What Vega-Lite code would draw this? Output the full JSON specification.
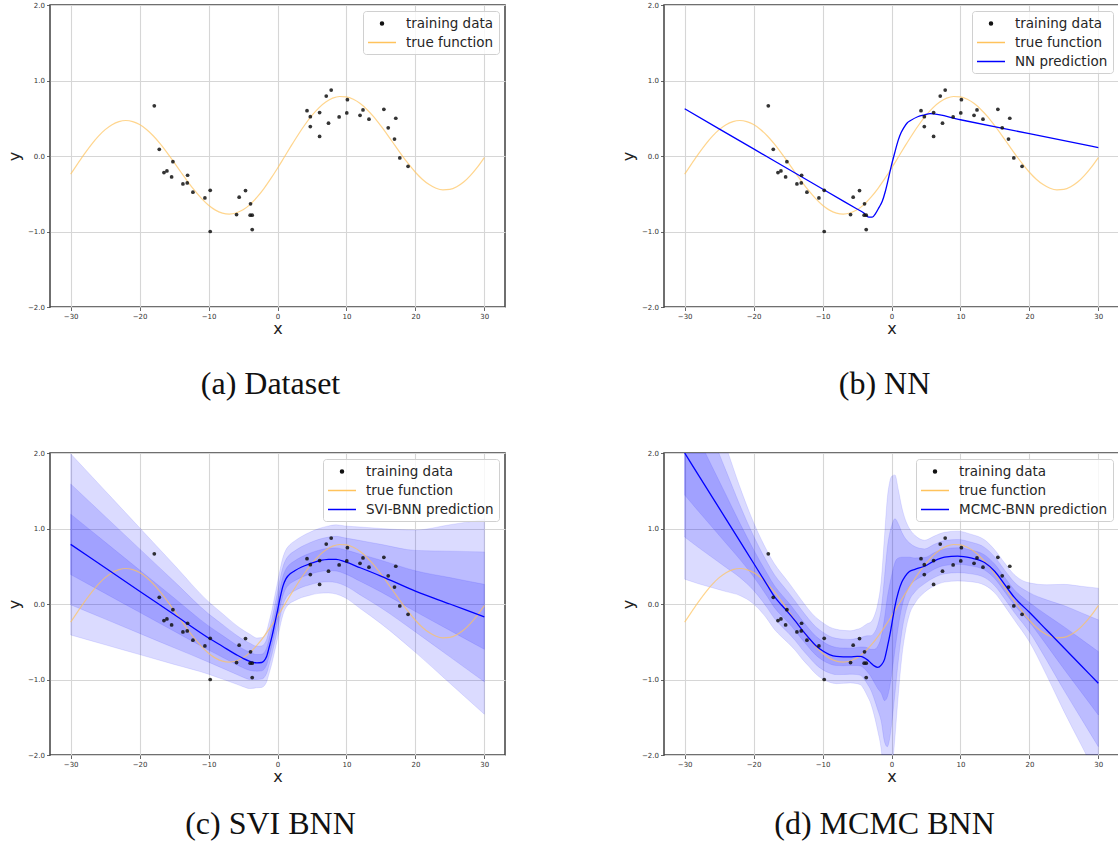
{
  "$schema": "https://vega.github.io/schema/vega-lite/v6.json",
  "padding": {"left": 5, "top": 0, "right": 0, "bottom": 0},
  "background": "white",
  "config": {
    "font": "DejaVu Sans",
    "view": {"stroke": "#404040", "strokeWidth": 1.5},
    "axis": {"gridColor": "#d6d6d6", "gridWidth": 1.1, "domain": false, "tickColor": "#404040", "tickSize": 3.5, "tickWidth": 0.8, "labelFont": "DejaVu Sans", "labelFontSize": 7, "labelColor": "#333333", "labelPadding": 2, "titleFont": "DejaVu Sans", "titleFontSize": 16, "titleFontWeight": "normal", "titleColor": "#222222", "labelFlush": false},
    "axisX": {"titlePadding": 1},
    "axisY": {"titlePadding": 5},
    "title": {"font": "Liberation Serif", "fontSize": 32, "fontWeight": "normal", "color": "#111111"},
    "legend": {"orient": "top-right", "offset": 6, "labelFont": "DejaVu Sans", "labelFontSize": 13.5, "labelColor": "#262626", "padding": 5, "rowPadding": 5, "strokeColor": "#d0d0d0", "fillColor": "rgba(255,255,255,0.8)", "cornerRadius": 3, "symbolSize": 169, "symbolStrokeWidth": 1.5, "symbolOpacity": 1, "labelOffset": 23}
  },
  "datasets": {
    "train": [
      {"x": -17.87, "y": 0.665}, {"x": -17.15, "y": 0.088}, {"x": -16.47, "y": -0.22}, {"x": -16.04, "y": -0.198}, {"x": -15.17, "y": -0.075}, {"x": -15.36, "y": -0.278}, {"x": -13.72, "y": -0.37}, {"x": -13.04, "y": -0.255}, {"x": -13.09, "y": -0.357}, {"x": -12.27, "y": -0.48}, {"x": -10.53, "y": -0.555}, {"x": -9.76, "y": -0.454}, {"x": -9.76, "y": -1.0}, {"x": -5.94, "y": -0.775}, {"x": -5.56, "y": -0.546}, {"x": -4.64, "y": -0.458}, {"x": -3.91, "y": -0.634}, {"x": -3.96, "y": -0.784}, {"x": -3.67, "y": -0.784}, {"x": -3.67, "y": -0.974},
      {"x": 4.28, "y": 0.6}, {"x": 4.76, "y": 0.52}, {"x": 4.76, "y": 0.39}, {"x": 6.11, "y": 0.575}, {"x": 6.11, "y": 0.259}, {"x": 7.07, "y": 0.794}, {"x": 7.4, "y": 0.434}, {"x": 7.79, "y": 0.873}, {"x": 8.94, "y": 0.518}, {"x": 10.14, "y": 0.746}, {"x": 10.05, "y": 0.57}, {"x": 11.97, "y": 0.539}, {"x": 12.4, "y": 0.61}, {"x": 13.27, "y": 0.487}, {"x": 15.43, "y": 0.618}, {"x": 16.06, "y": 0.373}, {"x": 17.16, "y": 0.5}, {"x": 16.97, "y": 0.224}, {"x": 17.74, "y": -0.026}, {"x": 18.94, "y": -0.136}
    ],
    "truef": [
      {"x": -30, "y": -0.24}, {"x": -29, "y": -0.104}, {"x": -28, "y": 0.029}, {"x": -27, "y": 0.152}, {"x": -26, "y": 0.26}, {"x": -25, "y": 0.349}, {"x": -24, "y": 0.415}, {"x": -23, "y": 0.456}, {"x": -22, "y": 0.47}, {"x": -21, "y": 0.456}, {"x": -20, "y": 0.417}, {"x": -19, "y": 0.352}, {"x": -18, "y": 0.265}, {"x": -17, "y": 0.16}, {"x": -16, "y": 0.042}, {"x": -15, "y": -0.085}, {"x": -14, "y": -0.215}, {"x": -13, "y": -0.342}, {"x": -12, "y": -0.46}, {"x": -11, "y": -0.565}, {"x": -10, "y": -0.652}, {"x": -9, "y": -0.717}, {"x": -8, "y": -0.756}, {"x": -7, "y": -0.77}, {"x": -6, "y": -0.755}, {"x": -5, "y": -0.713}, {"x": -4, "y": -0.644}, {"x": -3, "y": -0.549}, {"x": -2, "y": -0.435}, {"x": -1, "y": -0.304}, {"x": 0, "y": -0.162}, {"x": 1, "y": -0.013}, {"x": 2, "y": 0.137}, {"x": 3, "y": 0.282}, {"x": 4, "y": 0.417}, {"x": 5, "y": 0.537}, {"x": 6, "y": 0.638}, {"x": 7, "y": 0.714}, {"x": 8, "y": 0.766}, {"x": 9, "y": 0.788}, {"x": 10, "y": 0.783}, {"x": 11, "y": 0.751}, {"x": 12, "y": 0.694}, {"x": 13, "y": 0.613}, {"x": 14, "y": 0.514}, {"x": 15, "y": 0.398}, {"x": 16, "y": 0.274}, {"x": 17, "y": 0.144}, {"x": 18, "y": 0.016}, {"x": 19, "y": -0.105}, {"x": 20, "y": -0.215}, {"x": 21, "y": -0.307}, {"x": 22, "y": -0.379}, {"x": 23, "y": -0.428}, {"x": 24, "y": -0.449}, {"x": 25, "y": -0.443}, {"x": 26, "y": -0.407}, {"x": 27, "y": -0.345}, {"x": 28, "y": -0.256}, {"x": 29, "y": -0.147}, {"x": 30, "y": -0.02}
    ],
    "nn": [
      {"x": -30, "y": 0.625}, {"x": -20, "y": 0.094}, {"x": -10, "y": -0.437}, {"x": -5, "y": -0.702}, {"x": -4, "y": -0.755}, {"x": -3.3, "y": -0.81}, {"x": -2.8, "y": -0.81}, {"x": -2.3, "y": -0.76}, {"x": -1.8, "y": -0.68}, {"x": -1.34, "y": -0.6}, {"x": -0.9, "y": -0.47}, {"x": -0.5, "y": -0.32}, {"x": -0.05, "y": -0.14}, {"x": 0.46, "y": 0.04}, {"x": 0.98, "y": 0.21}, {"x": 1.4, "y": 0.31}, {"x": 1.75, "y": 0.37}, {"x": 2.3, "y": 0.44}, {"x": 2.77, "y": 0.47}, {"x": 3.8, "y": 0.52}, {"x": 4.8, "y": 0.545}, {"x": 5.6, "y": 0.56}, {"x": 10, "y": 0.48}, {"x": 20, "y": 0.295}, {"x": 30, "y": 0.112}
    ],
    "svi": [
      {"x": -30, "y": 0.79, "lo1": 0.39, "hi1": 1.19, "lo2": -0.01, "hi2": 1.59, "lo3": -0.41, "hi3": 1.99},
      {"x": -25, "y": 0.48, "lo1": 0.14, "hi1": 0.82, "lo2": -0.2, "hi2": 1.16, "lo3": -0.54, "hi3": 1.5},
      {"x": -20, "y": 0.17, "lo1": -0.11, "hi1": 0.45, "lo2": -0.39, "hi2": 0.73, "lo3": -0.67, "hi3": 1.01},
      {"x": -15, "y": -0.14, "lo1": -0.36, "hi1": 0.08, "lo2": -0.58, "hi2": 0.3, "lo3": -0.8, "hi3": 0.52},
      {"x": -10, "y": -0.45, "lo1": -0.61, "hi1": -0.29, "lo2": -0.77, "hi2": -0.13, "lo3": -0.93, "hi3": 0.03},
      {"x": -8, "y": -0.56, "lo1": -0.705, "hi1": -0.415, "lo2": -0.85, "hi2": -0.27, "lo3": -0.995, "hi3": -0.125},
      {"x": -6, "y": -0.67, "lo1": -0.8, "hi1": -0.54, "lo2": -0.93, "hi2": -0.41, "lo3": -1.06, "hi3": -0.28},
      {"x": -5, "y": -0.72, "lo1": -0.845, "hi1": -0.595, "lo2": -0.97, "hi2": -0.47, "lo3": -1.095, "hi3": -0.345},
      {"x": -4, "y": -0.76, "lo1": -0.88, "hi1": -0.64, "lo2": -1.0, "hi2": -0.52, "lo3": -1.12, "hi3": -0.4},
      {"x": -3, "y": -0.78, "lo1": -0.89, "hi1": -0.67, "lo2": -1.0, "hi2": -0.56, "lo3": -1.11, "hi3": -0.45},
      {"x": -2.3, "y": -0.775, "lo1": -0.885, "hi1": -0.665, "lo2": -0.995, "hi2": -0.555, "lo3": -1.105, "hi3": -0.445},
      {"x": -1.6, "y": -0.7, "lo1": -0.812, "hi1": -0.588, "lo2": -0.924, "hi2": -0.476, "lo3": -1.036, "hi3": -0.364},
      {"x": -1.2, "y": -0.57, "lo1": -0.685, "hi1": -0.455, "lo2": -0.8, "hi2": -0.34, "lo3": -0.915, "hi3": -0.225},
      {"x": -0.8, "y": -0.43, "lo1": -0.548, "hi1": -0.312, "lo2": -0.666, "hi2": -0.194, "lo3": -0.784, "hi3": -0.076},
      {"x": -0.4, "y": -0.26, "lo1": -0.382, "hi1": -0.138, "lo2": -0.504, "hi2": -0.016, "lo3": -0.626, "hi3": 0.106},
      {"x": 0, "y": -0.09, "lo1": -0.215, "hi1": 0.035, "lo2": -0.34, "hi2": 0.16, "lo3": -0.465, "hi3": 0.285},
      {"x": 0.4, "y": 0.09, "lo1": -0.036, "hi1": 0.216, "lo2": -0.162, "hi2": 0.342, "lo3": -0.288, "hi3": 0.468},
      {"x": 0.8, "y": 0.24, "lo1": 0.113, "hi1": 0.367, "lo2": -0.014, "hi2": 0.494, "lo3": -0.141, "hi3": 0.621},
      {"x": 1.2, "y": 0.33, "lo1": 0.202, "hi1": 0.458, "lo2": 0.074, "hi2": 0.586, "lo3": -0.054, "hi3": 0.714},
      {"x": 1.6, "y": 0.38, "lo1": 0.251, "hi1": 0.509, "lo2": 0.122, "hi2": 0.638, "lo3": -0.007, "hi3": 0.767},
      {"x": 2.5, "y": 0.44, "lo1": 0.308, "hi1": 0.572, "lo2": 0.176, "hi2": 0.704, "lo3": 0.044, "hi3": 0.836},
      {"x": 3.5, "y": 0.49, "lo1": 0.355, "hi1": 0.625, "lo2": 0.22, "hi2": 0.76, "lo3": 0.085, "hi3": 0.895},
      {"x": 4.6, "y": 0.53, "lo1": 0.391, "hi1": 0.669, "lo2": 0.252, "hi2": 0.808, "lo3": 0.113, "hi3": 0.947},
      {"x": 6, "y": 0.57, "lo1": 0.427, "hi1": 0.713, "lo2": 0.284, "hi2": 0.856, "lo3": 0.141, "hi3": 0.999},
      {"x": 7.4, "y": 0.59, "lo1": 0.442, "hi1": 0.738, "lo2": 0.294, "hi2": 0.886, "lo3": 0.146, "hi3": 1.034},
      {"x": 8.5, "y": 0.59, "lo1": 0.437, "hi1": 0.743, "lo2": 0.284, "hi2": 0.896, "lo3": 0.131, "hi3": 1.049},
      {"x": 9.75, "y": 0.56, "lo1": 0.402, "hi1": 0.718, "lo2": 0.244, "hi2": 0.876, "lo3": 0.086, "hi3": 1.034},
      {"x": 12, "y": 0.48, "lo1": 0.3, "hi1": 0.66, "lo2": 0.12, "hi2": 0.84, "lo3": -0.06, "hi3": 1.02},
      {"x": 15, "y": 0.37, "lo1": 0.16, "hi1": 0.58, "lo2": -0.05, "hi2": 0.79, "lo3": -0.26, "hi3": 1.0},
      {"x": 20, "y": 0.17, "lo1": -0.1, "hi1": 0.44, "lo2": -0.37, "hi2": 0.71, "lo3": -0.64, "hi3": 0.98},
      {"x": 25, "y": 0.0, "lo1": -0.35, "hi1": 0.35, "lo2": -0.7, "hi2": 0.7, "lo3": -1.05, "hi3": 1.05},
      {"x": 30, "y": -0.17, "lo1": -0.6, "hi1": 0.26, "lo2": -1.03, "hi2": 0.69, "lo3": -1.46, "hi3": 1.12}
    ],
    "mcmc": [
      {"x": -30, "y": 2.0, "lo1": 1.443, "hi1": 2.557, "lo2": 0.886, "hi2": 3.114, "lo3": 0.329, "hi3": 3.671},
      {"x": -28, "y": 1.708, "lo1": 1.228, "hi1": 2.188, "lo2": 0.748, "hi2": 2.668, "lo3": 0.268, "hi3": 3.148},
      {"x": -26, "y": 1.416, "lo1": 1.016, "hi1": 1.816, "lo2": 0.616, "hi2": 2.216, "lo3": 0.216, "hi3": 2.616},
      {"x": -24, "y": 1.124, "lo1": 0.804, "hi1": 1.444, "lo2": 0.484, "hi2": 1.764, "lo3": 0.164, "hi3": 2.084},
      {"x": -22, "y": 0.832, "lo1": 0.592, "hi1": 1.072, "lo2": 0.352, "hi2": 1.312, "lo3": 0.112, "hi3": 1.552},
      {"x": -20, "y": 0.54, "lo1": 0.36, "hi1": 0.72, "lo2": 0.18, "hi2": 0.9, "lo3": 0.0, "hi3": 1.08},
      {"x": -18, "y": 0.246, "lo1": 0.096, "hi1": 0.396, "lo2": -0.054, "hi2": 0.546, "lo3": -0.204, "hi3": 0.696},
      {"x": -17, "y": 0.1, "lo1": -0.045, "hi1": 0.245, "lo2": -0.19, "hi2": 0.39, "lo3": -0.335, "hi3": 0.535},
      {"x": -16, "y": -0.01, "lo1": -0.15, "hi1": 0.13, "lo2": -0.29, "hi2": 0.27, "lo3": -0.43, "hi3": 0.41},
      {"x": -15, "y": -0.11, "lo1": -0.245, "hi1": 0.025, "lo2": -0.38, "hi2": 0.16, "lo3": -0.515, "hi3": 0.295},
      {"x": -14, "y": -0.22, "lo1": -0.35, "hi1": -0.09, "lo2": -0.48, "hi2": 0.04, "lo3": -0.61, "hi3": 0.17},
      {"x": -13, "y": -0.34, "lo1": -0.468, "hi1": -0.212, "lo2": -0.596, "hi2": -0.084, "lo3": -0.724, "hi3": 0.044},
      {"x": -12, "y": -0.45, "lo1": -0.575, "hi1": -0.325, "lo2": -0.7, "hi2": -0.2, "lo3": -0.825, "hi3": -0.075},
      {"x": -11, "y": -0.55, "lo1": -0.675, "hi1": -0.425, "lo2": -0.8, "hi2": -0.3, "lo3": -0.925, "hi3": -0.175},
      {"x": -10, "y": -0.62, "lo1": -0.745, "hi1": -0.495, "lo2": -0.87, "hi2": -0.37, "lo3": -0.995, "hi3": -0.245},
      {"x": -9, "y": -0.67, "lo1": -0.792, "hi1": -0.548, "lo2": -0.914, "hi2": -0.426, "lo3": -1.036, "hi3": -0.304},
      {"x": -8, "y": -0.695, "lo1": -0.815, "hi1": -0.575, "lo2": -0.935, "hi2": -0.455, "lo3": -1.055, "hi3": -0.335},
      {"x": -7, "y": -0.7, "lo1": -0.817, "hi1": -0.583, "lo2": -0.934, "hi2": -0.466, "lo3": -1.051, "hi3": -0.349},
      {"x": -6, "y": -0.7, "lo1": -0.815, "hi1": -0.585, "lo2": -0.93, "hi2": -0.47, "lo3": -1.045, "hi3": -0.355},
      {"x": -5, "y": -0.695, "lo1": -0.815, "hi1": -0.575, "lo2": -0.935, "hi2": -0.455, "lo3": -1.055, "hi3": -0.335},
      {"x": -4.5, "y": -0.695, "lo1": -0.82, "hi1": -0.57, "lo2": -0.945, "hi2": -0.445, "lo3": -1.07, "hi3": -0.32},
      {"x": -4, "y": -0.71, "lo1": -0.85, "hi1": -0.57, "lo2": -0.99, "hi2": -0.43, "lo3": -1.13, "hi3": -0.29},
      {"x": -3.5, "y": -0.74, "lo1": -0.9, "hi1": -0.58, "lo2": -1.06, "hi2": -0.42, "lo3": -1.22, "hi3": -0.26},
      {"x": -3, "y": -0.78, "lo1": -0.96, "hi1": -0.6, "lo2": -1.14, "hi2": -0.42, "lo3": -1.32, "hi3": -0.24},
      {"x": -2.5, "y": -0.82, "lo1": -1.04, "hi1": -0.6, "lo2": -1.26, "hi2": -0.38, "lo3": -1.48, "hi3": -0.16},
      {"x": -2, "y": -0.84, "lo1": -1.12, "hi1": -0.56, "lo2": -1.4, "hi2": -0.28, "lo3": -1.68, "hi3": 0.0},
      {"x": -1.5, "y": -0.81, "lo1": -1.18, "hi1": -0.44, "lo2": -1.55, "hi2": -0.07, "lo3": -1.92, "hi3": 0.3},
      {"x": -1, "y": -0.73, "lo1": -1.28, "hi1": -0.18, "lo2": -1.83, "hi2": 0.37, "lo3": -2.38, "hi3": 0.92},
      {"x": -0.6, "y": -0.57, "lo1": -1.23, "hi1": 0.09, "lo2": -1.89, "hi2": 0.75, "lo3": -2.55, "hi3": 1.41},
      {"x": -0.3, "y": -0.44, "lo1": -1.12, "hi1": 0.24, "lo2": -1.8, "hi2": 0.92, "lo3": -2.48, "hi3": 1.6},
      {"x": 0, "y": -0.29, "lo1": -0.95, "hi1": 0.37, "lo2": -1.61, "hi2": 1.03, "lo3": -2.27, "hi3": 1.69},
      {"x": 0.5, "y": -0.03, "lo1": -0.61, "hi1": 0.55, "lo2": -1.19, "hi2": 1.13, "lo3": -1.77, "hi3": 1.71},
      {"x": 1, "y": 0.16, "lo1": -0.29, "hi1": 0.61, "lo2": -0.74, "hi2": 1.06, "lo3": -1.19, "hi3": 1.51},
      {"x": 1.5, "y": 0.29, "lo1": -0.04, "hi1": 0.62, "lo2": -0.37, "hi2": 0.95, "lo3": -0.7, "hi3": 1.28},
      {"x": 2, "y": 0.37, "lo1": 0.12, "hi1": 0.62, "lo2": -0.13, "hi2": 0.87, "lo3": -0.38, "hi3": 1.12},
      {"x": 2.6, "y": 0.43, "lo1": 0.24, "hi1": 0.62, "lo2": 0.05, "hi2": 0.81, "lo3": -0.14, "hi3": 1.0},
      {"x": 3.4, "y": 0.46, "lo1": 0.31, "hi1": 0.61, "lo2": 0.16, "hi2": 0.76, "lo3": 0.01, "hi3": 0.91},
      {"x": 4.8, "y": 0.5, "lo1": 0.385, "hi1": 0.615, "lo2": 0.27, "hi2": 0.73, "lo3": 0.155, "hi3": 0.845},
      {"x": 6.2, "y": 0.57, "lo1": 0.46, "hi1": 0.68, "lo2": 0.35, "hi2": 0.79, "lo3": 0.24, "hi3": 0.9},
      {"x": 7.7, "y": 0.62, "lo1": 0.51, "hi1": 0.73, "lo2": 0.4, "hi2": 0.84, "lo3": 0.29, "hi3": 0.95},
      {"x": 9.6, "y": 0.635, "lo1": 0.525, "hi1": 0.745, "lo2": 0.415, "hi2": 0.855, "lo3": 0.305, "hi3": 0.965},
      {"x": 11.5, "y": 0.61, "lo1": 0.505, "hi1": 0.715, "lo2": 0.4, "hi2": 0.82, "lo3": 0.295, "hi3": 0.925},
      {"x": 13.5, "y": 0.55, "lo1": 0.45, "hi1": 0.65, "lo2": 0.35, "hi2": 0.75, "lo3": 0.25, "hi3": 0.85},
      {"x": 15, "y": 0.43, "lo1": 0.335, "hi1": 0.525, "lo2": 0.24, "hi2": 0.62, "lo3": 0.145, "hi3": 0.715},
      {"x": 16.4, "y": 0.26, "lo1": 0.165, "hi1": 0.355, "lo2": 0.07, "hi2": 0.45, "lo3": -0.025, "hi3": 0.545},
      {"x": 17.8, "y": 0.09, "lo1": -0.01, "hi1": 0.19, "lo2": -0.11, "hi2": 0.29, "lo3": -0.21, "hi3": 0.39},
      {"x": 20, "y": -0.11, "lo1": -0.24, "hi1": 0.02, "lo2": -0.37, "hi2": 0.15, "lo3": -0.5, "hi3": 0.28},
      {"x": 22.5, "y": -0.345, "lo1": -0.545, "hi1": -0.145, "lo2": -0.745, "hi2": 0.055, "lo3": -0.945, "hi3": 0.255},
      {"x": 25, "y": -0.58, "lo1": -0.86, "hi1": -0.3, "lo2": -1.14, "hi2": -0.02, "lo3": -1.42, "hi3": 0.26},
      {"x": 27.5, "y": -0.815, "lo1": -1.165, "hi1": -0.465, "lo2": -1.515, "hi2": -0.115, "lo3": -1.865, "hi3": 0.235},
      {"x": 30, "y": -1.05, "lo1": -1.47, "hi1": -0.63, "lo2": -1.89, "hi2": -0.21, "lo3": -2.31, "hi3": 0.21}
    ]
  },
  "columns": 2,
  "spacing": {"row": 146, "column": 159},
  "bounds": "flush",
  "resolve": {"scale": {"color": "independent", "shape": "independent"}, "legend": {"color": "independent", "shape": "independent"}},
  "concat": [
    {
      "width": 455, "height": 302,
      "title": {"text": "(a) Dataset", "orient": "bottom", "frame": "group", "offset": 32, "dx": -7},
      "encoding": {"x": {"field": "x", "type": "quantitative", "scale": {"domain": [-33, 33], "nice": false, "zero": false}, "axis": {"values": [-30, -20, -10, 0, 10, 20, 30], "title": "x", "format": "d"}}},
      "layer": [
        {"data": {"name": "truef"}, "mark": {"type": "line", "strokeWidth": 1.2, "opacity": 0.7, "interpolate": "monotone", "clip": true},
         "encoding": {"y": {"field": "y", "type": "quantitative", "scale": {"domain": [-2, 2], "nice": false, "zero": false}, "axis": {"values": [-2, -1.5, -1, -0.5, 0, 0.5, 1, 1.5, 2], "format": ".1f", "title": "y"}},
           "color": {"datum": "true function", "scale": {"domain": ["training data", "true function"], "range": ["#111111", "#ffc35c"]}, "legend": {"title": null}}}},
        {"data": {"name": "train"}, "mark": {"type": "circle", "size": 14, "opacity": 0.85},
         "encoding": {"y": {"field": "y", "type": "quantitative", "axis": {"title": "y"}},
           "color": {"datum": "training data", "scale": {"domain": ["training data", "true function"], "range": ["#111111", "#ffc35c"]}, "legend": {"title": null}}}},
        {"data": {"name": "train"}, "mark": {"type": "point", "opacity": 0},
         "encoding": {"y": {"field": "y", "type": "quantitative", "axis": {"title": "y"}},
           "color": {"datum": "training data", "scale": {"domain": ["training data", "true function"], "range": ["#111111", "#ffc35c"]}, "legend": {"title": null}},
           "shape": {"datum": "training data", "scale": {"domain": ["training data", "true function"], "range": ["M1.23,0A0.23,0.23,0,1,1,0.77,0A0.23,0.23,0,1,1,1.23,0Z", "M-1.154,0H3.154"]}, "legend": {"title": null}}}}
      ]
    },
    {
      "width": 455, "height": 302,
      "title": {"text": "(b) NN", "orient": "bottom", "frame": "group", "offset": 32, "dx": -7},
      "encoding": {"x": {"field": "x", "type": "quantitative", "scale": {"domain": [-33, 33], "nice": false, "zero": false}, "axis": {"values": [-30, -20, -10, 0, 10, 20, 30], "title": "x", "format": "d"}}},
      "layer": [
        {"data": {"name": "truef"}, "mark": {"type": "line", "strokeWidth": 1.2, "opacity": 0.7, "interpolate": "monotone", "clip": true},
         "encoding": {"y": {"field": "y", "type": "quantitative", "scale": {"domain": [-2, 2], "nice": false, "zero": false}, "axis": {"values": [-2, -1.5, -1, -0.5, 0, 0.5, 1, 1.5, 2], "format": ".1f", "title": "y"}},
           "color": {"datum": "true function", "scale": {"domain": ["training data", "true function", "NN prediction"], "range": ["#111111", "#ffc35c", "#0000ff"]}, "legend": {"title": null}}}},
        {"data": {"name": "nn"}, "mark": {"type": "line", "strokeWidth": 1.3, "interpolate": "monotone", "clip": true},
         "encoding": {"y": {"field": "y", "type": "quantitative", "axis": {"title": "y"}},
           "color": {"datum": "NN prediction", "scale": {"domain": ["training data", "true function", "NN prediction"], "range": ["#111111", "#ffc35c", "#0000ff"]}, "legend": {"title": null}}}},
        {"data": {"name": "train"}, "mark": {"type": "circle", "size": 14, "opacity": 0.85},
         "encoding": {"y": {"field": "y", "type": "quantitative", "axis": {"title": "y"}},
           "color": {"datum": "training data", "scale": {"domain": ["training data", "true function", "NN prediction"], "range": ["#111111", "#ffc35c", "#0000ff"]}, "legend": {"title": null}}}},
        {"data": {"name": "train"}, "mark": {"type": "point", "opacity": 0},
         "encoding": {"y": {"field": "y", "type": "quantitative", "axis": {"title": "y"}},
           "color": {"datum": "training data", "scale": {"domain": ["training data", "true function", "NN prediction"], "range": ["#111111", "#ffc35c", "#0000ff"]}, "legend": {"title": null}},
           "shape": {"datum": "training data", "scale": {"domain": ["training data", "true function", "NN prediction"], "range": ["M1.23,0A0.23,0.23,0,1,1,0.77,0A0.23,0.23,0,1,1,1.23,0Z", "M-1.154,0H3.154", "M-1.154,0H3.154"]}, "legend": {"title": null}}}}
      ]
    },
    {
      "width": 455, "height": 302,
      "title": {"text": "(c) SVI BNN", "orient": "bottom", "frame": "group", "offset": 24, "dx": -7},
      "encoding": {"x": {"field": "x", "type": "quantitative", "scale": {"domain": [-33, 33], "nice": false, "zero": false}, "axis": {"values": [-30, -20, -10, 0, 10, 20, 30], "title": "x", "format": "d"}}},
      "layer": [
        {"data": {"name": "svi"}, "mark": {"type": "area", "interpolate": "monotone", "fill": "#0000ff", "fillOpacity": 0.14, "stroke": "#0000ff", "strokeOpacity": 0.12, "strokeWidth": 0.8, "clip": true},
         "encoding": {"y": {"field": "lo3", "type": "quantitative", "scale": {"domain": [-2, 2], "nice": false, "zero": false}, "axis": {"values": [-2, -1.5, -1, -0.5, 0, 0.5, 1, 1.5, 2], "format": ".1f", "title": "y"}}, "y2": {"field": "hi3"}}},
        {"data": {"name": "svi"}, "mark": {"type": "area", "interpolate": "monotone", "fill": "#0000ff", "fillOpacity": 0.14, "stroke": "#0000ff", "strokeOpacity": 0.12, "strokeWidth": 0.8, "clip": true},
         "encoding": {"y": {"field": "lo2", "type": "quantitative", "axis": {"title": "y"}}, "y2": {"field": "hi2"}}},
        {"data": {"name": "svi"}, "mark": {"type": "area", "interpolate": "monotone", "fill": "#0000ff", "fillOpacity": 0.14, "stroke": "#0000ff", "strokeOpacity": 0.12, "strokeWidth": 0.8, "clip": true},
         "encoding": {"y": {"field": "lo1", "type": "quantitative", "axis": {"title": "y"}}, "y2": {"field": "hi1"}}},
        {"data": {"name": "truef"}, "mark": {"type": "line", "strokeWidth": 1.2, "opacity": 0.7, "interpolate": "monotone", "clip": true},
         "encoding": {"y": {"field": "y", "type": "quantitative", "axis": {"title": "y"}},
           "color": {"datum": "true function", "scale": {"domain": ["training data", "true function", "SVI-BNN prediction"], "range": ["#111111", "#ffc35c", "#0000ff"]}, "legend": {"title": null}}}},
        {"data": {"name": "svi"}, "mark": {"type": "line", "strokeWidth": 1.3, "interpolate": "monotone", "clip": true},
         "encoding": {"y": {"field": "y", "type": "quantitative", "axis": {"title": "y"}},
           "color": {"datum": "SVI-BNN prediction", "scale": {"domain": ["training data", "true function", "SVI-BNN prediction"], "range": ["#111111", "#ffc35c", "#0000ff"]}, "legend": {"title": null}}}},
        {"data": {"name": "train"}, "mark": {"type": "circle", "size": 14, "opacity": 0.85},
         "encoding": {"y": {"field": "y", "type": "quantitative", "axis": {"title": "y"}},
           "color": {"datum": "training data", "scale": {"domain": ["training data", "true function", "SVI-BNN prediction"], "range": ["#111111", "#ffc35c", "#0000ff"]}, "legend": {"title": null}}}},
        {"data": {"name": "train"}, "mark": {"type": "point", "opacity": 0},
         "encoding": {"y": {"field": "y", "type": "quantitative", "axis": {"title": "y"}},
           "color": {"datum": "training data", "scale": {"domain": ["training data", "true function", "SVI-BNN prediction"], "range": ["#111111", "#ffc35c", "#0000ff"]}, "legend": {"title": null}},
           "shape": {"datum": "training data", "scale": {"domain": ["training data", "true function", "SVI-BNN prediction"], "range": ["M1.23,0A0.23,0.23,0,1,1,0.77,0A0.23,0.23,0,1,1,1.23,0Z", "M-1.154,0H3.154", "M-1.154,0H3.154"]}, "legend": {"title": null}}}}
      ]
    },
    {
      "width": 455, "height": 302,
      "title": {"text": "(d) MCMC BNN", "orient": "bottom", "frame": "group", "offset": 24, "dx": -7},
      "encoding": {"x": {"field": "x", "type": "quantitative", "scale": {"domain": [-33, 33], "nice": false, "zero": false}, "axis": {"values": [-30, -20, -10, 0, 10, 20, 30], "title": "x", "format": "d"}}},
      "layer": [
        {"data": {"name": "mcmc"}, "mark": {"type": "area", "interpolate": "monotone", "fill": "#0000ff", "fillOpacity": 0.14, "stroke": "#0000ff", "strokeOpacity": 0.12, "strokeWidth": 0.8, "clip": true},
         "encoding": {"y": {"field": "lo3", "type": "quantitative", "scale": {"domain": [-2, 2], "nice": false, "zero": false}, "axis": {"values": [-2, -1.5, -1, -0.5, 0, 0.5, 1, 1.5, 2], "format": ".1f", "title": "y"}}, "y2": {"field": "hi3"}}},
        {"data": {"name": "mcmc"}, "mark": {"type": "area", "interpolate": "monotone", "fill": "#0000ff", "fillOpacity": 0.14, "stroke": "#0000ff", "strokeOpacity": 0.12, "strokeWidth": 0.8, "clip": true},
         "encoding": {"y": {"field": "lo2", "type": "quantitative", "axis": {"title": "y"}}, "y2": {"field": "hi2"}}},
        {"data": {"name": "mcmc"}, "mark": {"type": "area", "interpolate": "monotone", "fill": "#0000ff", "fillOpacity": 0.14, "stroke": "#0000ff", "strokeOpacity": 0.12, "strokeWidth": 0.8, "clip": true},
         "encoding": {"y": {"field": "lo1", "type": "quantitative", "axis": {"title": "y"}}, "y2": {"field": "hi1"}}},
        {"data": {"name": "truef"}, "mark": {"type": "line", "strokeWidth": 1.2, "opacity": 0.7, "interpolate": "monotone", "clip": true},
         "encoding": {"y": {"field": "y", "type": "quantitative", "axis": {"title": "y"}},
           "color": {"datum": "true function", "scale": {"domain": ["training data", "true function", "MCMC-BNN prediction"], "range": ["#111111", "#ffc35c", "#0000ff"]}, "legend": {"title": null}}}},
        {"data": {"name": "mcmc"}, "mark": {"type": "line", "strokeWidth": 1.3, "interpolate": "monotone", "clip": true},
         "encoding": {"y": {"field": "y", "type": "quantitative", "axis": {"title": "y"}},
           "color": {"datum": "MCMC-BNN prediction", "scale": {"domain": ["training data", "true function", "MCMC-BNN prediction"], "range": ["#111111", "#ffc35c", "#0000ff"]}, "legend": {"title": null}}}},
        {"data": {"name": "train"}, "mark": {"type": "circle", "size": 14, "opacity": 0.85},
         "encoding": {"y": {"field": "y", "type": "quantitative", "axis": {"title": "y"}},
           "color": {"datum": "training data", "scale": {"domain": ["training data", "true function", "MCMC-BNN prediction"], "range": ["#111111", "#ffc35c", "#0000ff"]}, "legend": {"title": null}}}},
        {"data": {"name": "train"}, "mark": {"type": "point", "opacity": 0},
         "encoding": {"y": {"field": "y", "type": "quantitative", "axis": {"title": "y"}},
           "color": {"datum": "training data", "scale": {"domain": ["training data", "true function", "MCMC-BNN prediction"], "range": ["#111111", "#ffc35c", "#0000ff"]}, "legend": {"title": null}},
           "shape": {"datum": "training data", "scale": {"domain": ["training data", "true function", "MCMC-BNN prediction"], "range": ["M1.23,0A0.23,0.23,0,1,1,0.77,0A0.23,0.23,0,1,1,1.23,0Z", "M-1.154,0H3.154", "M-1.154,0H3.154"]}, "legend": {"title": null}}}}
      ]
    }
  ]
}
